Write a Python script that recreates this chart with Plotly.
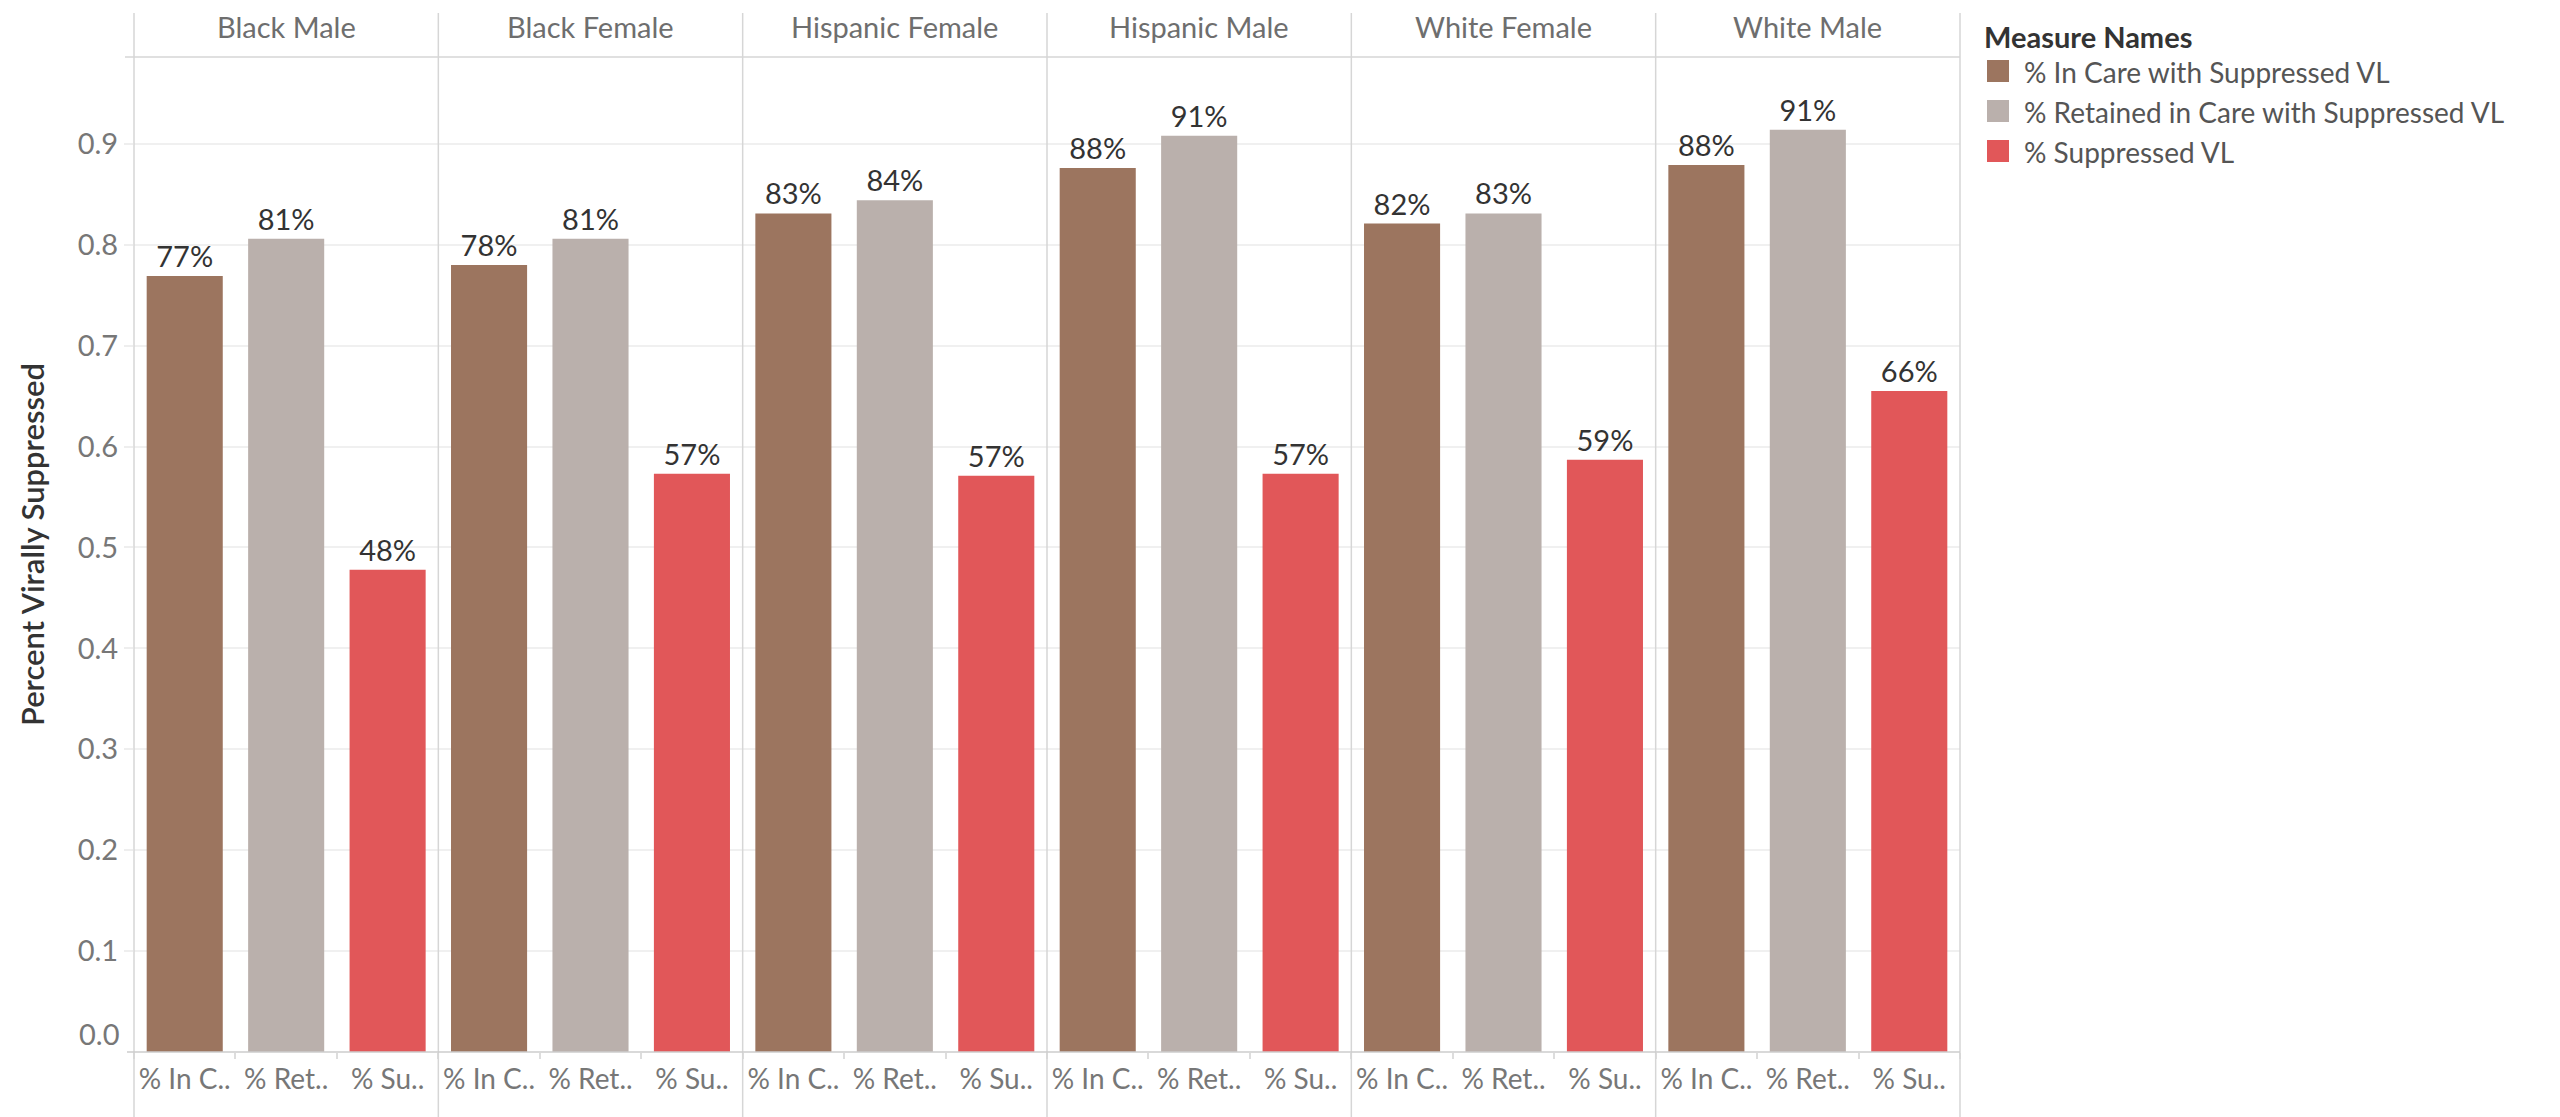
import plotly.graph_objects as go

# ---------------- data ----------------
groups = ["Black Male", "Black Female", "Hispanic Female", "Hispanic Male", "White Female", "White Male"]
measures = ["% In Care with Suppressed VL", "% Retained in Care with Suppressed VL", "% Suppressed VL"]
measure_ticks = ["% In C..", "% Ret..", "% Su.."]
in_care = [0.769, 0.780, 0.831, 0.876, 0.821, 0.879]
retained = [0.806, 0.806, 0.844, 0.908, 0.831, 0.914]
suppressed = [0.478, 0.573, 0.571, 0.573, 0.587, 0.655]
series = [in_care, retained, suppressed]
colors = ["#9C755F", "#BAB0AC", "#E15759"]
y_ticks = [0.0, 0.1, 0.2, 0.3, 0.4, 0.5, 0.6, 0.7, 0.8, 0.9]
y_title = "Percent Virally Suppressed"
legend_title = "Measure Names"

# ---------------- geometry ----------------
W, H = 2560, 1117
L, R, T, B = 134, 600, 57, 65
PW, PH = W - L - R, H - T - B
FONT = "Lato"
TICK_FONT = dict(family=FONT, size=29, color="#777777")


def px_x(p):
    return (p - L) / PW


def px_y(p):
    return (H - B - p) / PH


n = len(groups)
fig = go.Figure()

for p, g in enumerate(groups):
    ax = "x" if p == 0 else f"x{p+1}"
    for m, name in enumerate(measures):
        fig.add_trace(go.Bar(
            x=[name], y=[series[m][p]], xaxis=ax, yaxis="y",
            name=name, legendgroup=name, showlegend=False,
            marker=dict(color=colors[m], line=dict(width=0)),
            texttemplate="%{y:.0%}", textposition="outside",
            textfont=dict(family=FONT, size=29, color="#333333"),
            constraintext="none", cliponaxis=False,
            hovertemplate=g + "<br>" + name + ": %{y:.1%}<extra></extra>",
        ))

# the 0.0 label sits just above the baseline (as in the original), others on their gridline
layout = dict(
    width=W, height=H,
    margin=dict(l=L, r=R, t=T, b=B, autoexpand=False),
    paper_bgcolor="white", plot_bgcolor="white",
    barmode="overlay", bargap=0.25,
    showlegend=False,
    font=dict(family=FONT, size=29, color="#666666"),
    yaxis=dict(
        domain=[0, 1], anchor="x", range=[0, 0.986],
        tickvals=y_ticks[1:], ticktext=[f"{v:.1f}" for v in y_ticks[1:]],
        showgrid=True, gridcolor="#f0f0f0", gridwidth=1.5,
        zeroline=False, showline=False,
        ticks="outside", ticklen=9, tickwidth=1.5, tickcolor="#eeeeee",
        tickfont=TICK_FONT,
    ),
)
for p in range(n):
    key = "xaxis" if p == 0 else f"xaxis{p+1}"
    layout[key] = dict(
        domain=[p / n, (p + 1) / n], anchor="y",
        type="category", categoryorder="array", categoryarray=measures,
        tickvals=measures, ticktext=measure_ticks, range=[-0.5, 2.5],
        showgrid=False, zeroline=False, showline=False, tickangle=0,
        ticks="outside", tickson="boundaries", ticklen=6, tickwidth=1.5, tickcolor="#dddddd",
        ticklabelstandoff=8,
        tickfont=dict(family=FONT, size=28, color="#777777"),
    )
fig.update_layout(**layout)

shapes = []
# panel dividers
for k in range(n + 1):
    shapes.append(dict(type="line", xref="paper", yref="paper",
                       x0=k / n, x1=k / n, y0=px_y(H), y1=px_y(13),
                       line=dict(color="#d6d6d6", width=1.5)))
# header bottom line
shapes.append(dict(type="line", xref="paper", yref="paper",
                   x0=px_x(125), x1=1, y0=1, y1=1,
                   line=dict(color="#d6d6d6", width=1.5)))
# baseline
shapes.append(dict(type="line", xref="paper", yref="paper",
                   x0=px_x(127), x1=1, y0=0, y1=0,
                   line=dict(color="#cccccc", width=1.5)))

annotations = []
# 0.0 tick label
annotations.append(dict(text=f"{y_ticks[0]:.1f}", xref="paper", yref="paper",
                        x=px_x(121), y=px_y(1033), xanchor="right", yanchor="middle",
                        showarrow=False, font=TICK_FONT))
# panel headers
for p, g in enumerate(groups):
    annotations.append(dict(text=g, xref="paper", yref="paper",
                            x=(p + 0.5) / n, y=px_y(26), xanchor="center", yanchor="middle",
                            showarrow=False, font=dict(family=FONT, size=29, color="#6e6e6e")))
# y title
annotations.append(dict(text=y_title, xref="paper", yref="paper", x=px_x(32), y=px_y(545),
                        xanchor="center", yanchor="middle", textangle=-90, showarrow=False,
                        font=dict(family=FONT, size=31, color="#333333", weight=600)))
# legend (drawn manually to match the large swatches)
annotations.append(dict(text=legend_title, xref="paper", yref="paper", x=px_x(1982), y=px_y(36),
                        xanchor="left", yanchor="middle", showarrow=False,
                        font=dict(family=FONT, size=29, color="#333333", weight=700)))
for m, name in enumerate(measures):
    cy = 71 + 40 * m
    shapes.append(dict(type="rect", xref="paper", yref="paper",
                       x0=px_x(1987), x1=px_x(2009), y0=px_y(cy + 11), y1=px_y(cy - 11),
                       fillcolor=colors[m], line=dict(width=0)))
    annotations.append(dict(text=name, xref="paper", yref="paper", x=px_x(2022), y=px_y(cy + 1),
                            xanchor="left", yanchor="middle", showarrow=False,
                            font=dict(family=FONT, size=28, color="#555555")))

fig.update_layout(shapes=shapes, annotations=annotations)

fig.write_html("out.html", config={"displayModeBar": False},
               post_script="document.body.style.margin='0';document.body.style.overflow='hidden';")
